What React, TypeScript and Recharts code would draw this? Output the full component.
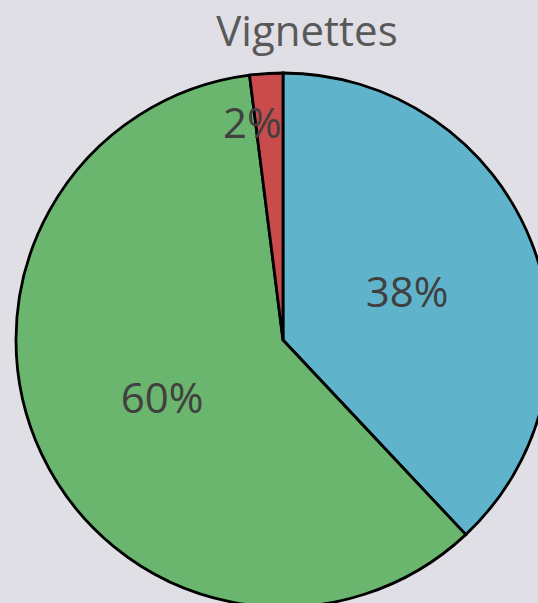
import React from 'react';
import { PieChart, Pie, Cell } from 'recharts';

const categories = ['Blue', 'Green', 'Red'];
const shares = [38, 60, 2];
const colors = ['#5fb4cc', '#6bb66e', '#c94b4b'];

const data = categories.map((name, i) => ({ name, value: shares[i] }));

const RAD = Math.PI / 180;

function renderLabel(props: any) {
  const { cx, cy, midAngle, outerRadius, index, value } = props;
  // small slice label sits further out and a bit to the left, like Excel's best fit
  const small = value < 5;
  const r = outerRadius * (small ? 0.82 : 0.5);
  const x = cx + r * Math.cos(-midAngle * RAD) + (small ? -17 : 0);
  const y = cy + r * Math.sin(-midAngle * RAD);
  return (
    <text
      key={`lbl-${index}`}
      x={x}
      y={y}
      fill="#404040"
      fontSize={42}
      fontFamily="'Open Sans', sans-serif"
      textAnchor="middle"
      dominantBaseline="central"
    >
      {`${value}%`}
    </text>
  );
}

export default function App() {
  return (
    <div
      style={{
        position: 'absolute',
        top: 0,
        left: 0,
        width: 538,
        height: 603,
        overflow: 'hidden',
        background: '#dfdfe5',
      }}
    >
      <div
        style={{
          position: 'absolute',
          top: 2,
          left: 0,
          width: 614,
          textAlign: 'center',
          fontFamily: "'Open Sans', sans-serif",
          fontSize: 42,
          lineHeight: '56px',
          color: '#595959',
        }}
      >
        Vignettes
      </div>
      <PieChart
        width={538}
        height={603}
        margin={{ top: 0, right: 0, bottom: 0, left: 0 }}
        style={{ position: 'absolute', top: 0, left: 0 }}
      >
        <Pie
          data={data}
          dataKey="value"
          cx={283}
          cy={340}
          outerRadius={267}
          startAngle={90}
          endAngle={-270}
          stroke="#000"
          strokeWidth={2.8}
          labelLine={false}
          label={renderLabel}
          isAnimationActive={false}
        >
          {data.map((d, i) => (
            <Cell key={d.name} fill={colors[i]} />
          ))}
        </Pie>
      </PieChart>
    </div>
  );
}
